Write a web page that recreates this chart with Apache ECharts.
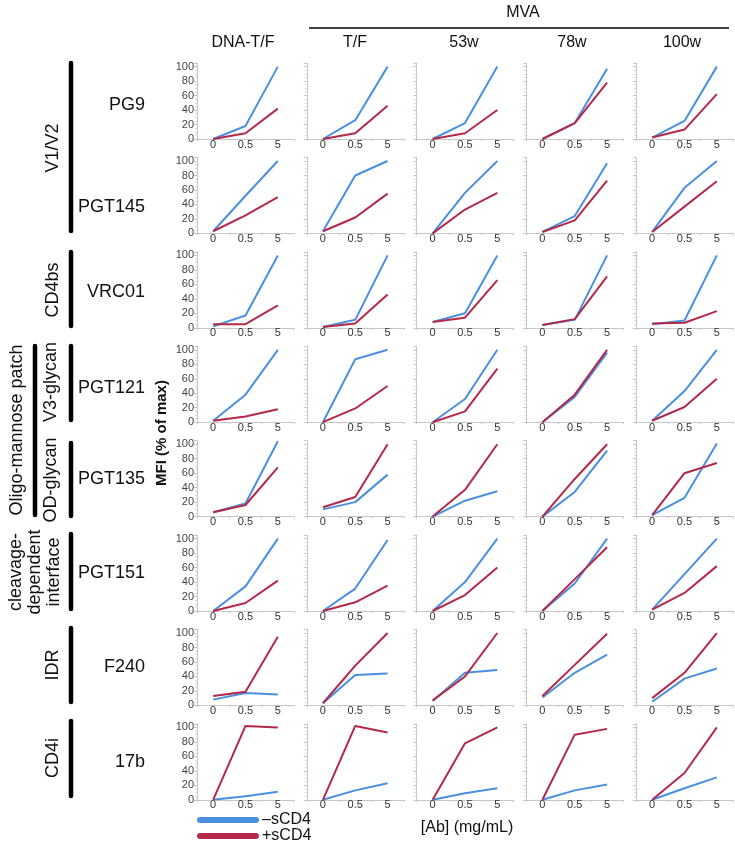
<!DOCTYPE html>
<html>
<head>
<meta charset="utf-8">
<script src="https://cdn.jsdelivr.net/npm/echarts@6/dist/echarts.min.js"></script>
<style>
  html, body { margin: 0; padding: 0; background: #fff; }
  #chart { width: 735px; height: 844px; }
</style>
</head>
<body>
<div id="chart"></div>
<script>
// x categories, antibody concentration
const doses = ['0', '0.5', '5']
const columns = ['DNA-T/F', 'T/F', '53w', '78w', '100w']
const antibodies = ['PG9', 'PGT145', 'VRC01', 'PGT121', 'PGT135', 'PGT151', 'F240', '17b']
const yTicks = [0, 20, 40, 60, 80, 100]

// -sCD4, one row per antibody, one triple per column
const minusSCD4 = [
  [[0, 18, 100], [0, 26, 100], [0, 22, 100], [0, 22, 97], [2, 25, 100]], // PG9
  [[3, 52, 100], [3, 80, 100], [0, 56, 100], [2, 24, 97], [2, 63, 100]], // PGT145
  [[2, 17, 100], [1, 11, 100], [8, 20, 100], [4, 11, 100], [5, 10, 100]], // VRC01
  [[2, 38, 100], [0, 87, 100], [0, 32, 100], [0, 35, 96], [2, 43, 100]], // PGT121
  [[6, 18, 104], [10, 20, 58], [0, 22, 35], [0, 34, 91], [2, 26, 101]], // PGT135
  [[0, 34, 100], [0, 31, 98], [0, 40, 100], [0, 38, 100], [2, 51, 100]], // PGT151
  [[8, 17, 15], [3, 42, 44], [6, 45, 49], [11, 45, 70], [5, 37, 51]], // F240
  [[0, 5, 11], [0, 13, 23], [0, 9, 16], [0, 13, 21], [0, 16, 31]] // 17b
]

// +sCD4
const plusSCD4 = [
  [[0, 8, 42], [0, 8, 46], [0, 8, 40], [0, 22, 78], [2, 13, 62]],
  [[3, 25, 50], [3, 22, 55], [0, 33, 56], [2, 18, 73], [2, 37, 72]],
  [[5, 5, 31], [1, 6, 46], [8, 14, 66], [4, 12, 71], [6, 7, 23]],
  [[2, 8, 18], [0, 19, 50], [0, 15, 74], [0, 38, 100], [2, 21, 60]],
  [[6, 16, 68], [13, 27, 100], [0, 37, 100], [0, 52, 100], [2, 60, 74]],
  [[0, 11, 42], [0, 12, 35], [0, 22, 60], [0, 44, 88], [2, 25, 62]],
  [[13, 19, 95], [3, 55, 100], [7, 40, 100], [13, 56, 99], [10, 45, 100]],
  [[0, 102, 100], [0, 102, 93], [0, 78, 100], [0, 90, 98], [0, 37, 100]]
]

const BLUE = '#4a8fe0'
const RED = '#b3294a'
const FONT = '"Liberation Sans", Arial, sans-serif'
const AXIS = '#c6c6c6'

const chart = echarts.init(document.getElementById('chart'))

let grids = []
let xAxes = []
let yAxes = []
let series = []

antibodies.forEach((ab, r) => {
  columns.forEach((col, c) => {
    const i = grids.length
    grids.push({
      left: 197 + c * 109.75,
      top: 63 + r * 94.4,
      width: 97,
      height: 76
    })
    xAxes.push({
      gridIndex: i,
      type: 'category',
      data: doses,
      boundaryGap: true,
      axisLine: { lineStyle: { color: AXIS } },
      axisTick: { show: true, length: 2, lineStyle: { color: AXIS } },
      axisLabel: { fontSize: 11, color: '#333', margin: 0, fontFamily: FONT }
    })
    yAxes.push({
      gridIndex: i,
      type: 'value',
      min: yTicks[0],
      max: 105,
      interval: yTicks[1] - yTicks[0],
      axisLine: { show: true, lineStyle: { color: AXIS } },
      axisTick: { show: true, length: 3, lineStyle: { color: AXIS } },
      minorTick: { show: true, splitNumber: 4, length: 2, lineStyle: { color: '#dadada' } },
      splitLine: { show: false },
      axisLabel: {
        show: c === 0,
        fontSize: 11,
        color: '#444',
        margin: 3,
        fontFamily: FONT,
        formatter: (v) => (yTicks.indexOf(v) >= 0 ? String(v) : '')
      }
    })
    series.push({
      type: 'line',
      name: '–sCD4',
      xAxisIndex: i,
      yAxisIndex: i,
      data: minusSCD4[r][c],
      symbol: 'none',
      silent: true,
      lineStyle: { width: 2, color: BLUE },
      itemStyle: { color: BLUE }
    })
    series.push({
      type: 'line',
      name: '+sCD4',
      xAxisIndex: i,
      yAxisIndex: i,
      data: plusSCD4[r][c],
      symbol: 'none',
      silent: true,
      lineStyle: { width: 2, color: RED },
      itemStyle: { color: RED }
    })
  })
})

// left side labels
const txt = (x, y, text, opts = {}) => ({
  type: 'text',
  x: x,
  y: y,
  rotation: opts.rotate ? Math.PI / 2 : 0,
  style: {
    text: text,
    fontSize: opts.size || 18,
    fontWeight: opts.bold ? 'bold' : 'normal',
    fontFamily: FONT,
    fill: '#111',
    align: opts.align || 'center',
    verticalAlign: 'middle',
    lineHeight: opts.lineHeight
  }
})
const bar = (x, y1, y2) => ({
  type: 'line',
  shape: { x1: x, y1: y1, x2: x, y2: y2 },
  style: { stroke: '#000', lineWidth: 4.5, lineCap: 'round' }
})

const nameY = [105, 207, 292, 388, 479, 573, 667, 762]
let graphic = []
antibodies.forEach((ab, r) => {
  graphic.push(txt(145, nameY[r], ab, { align: 'right' }))
})
const headerX = [243, 355, 464, 572, 682]
columns.forEach((col, c) => {
  graphic.push(txt(headerX[c], 43, col, { size: 16 }))
})
graphic.push(txt(523, 13, 'MVA', { size: 16 }))
graphic.push({
  type: 'line',
  shape: { x1: 309, y1: 28, x2: 729, y2: 28 },
  style: { stroke: '#000', lineWidth: 1.5 }
})

graphic.push(bar(71, 63, 231))
graphic.push(txt(53, 148, 'V1/V2', { rotate: true }))
graphic.push(bar(71, 252, 326))
graphic.push(txt(53, 290, 'CD4bs', { rotate: true }))
graphic.push(bar(71, 346, 420))
graphic.push(txt(51, 382, 'V3-glycan', { rotate: true }))
graphic.push(bar(35, 346, 515))
graphic.push(txt(17, 430, 'Oligo-mannose patch', { rotate: true }))
graphic.push(bar(71, 443, 516))
graphic.push(txt(51, 480, 'OD-glycan', { rotate: true }))
graphic.push(bar(71, 534, 609))
graphic.push(txt(35, 572, 'cleavage-\ndependent\ninterface', { rotate: true, lineHeight: 19 }))
graphic.push(bar(71, 628, 702))
graphic.push(txt(53, 665, 'IDR', { rotate: true }))
graphic.push(bar(71, 721, 796))
graphic.push(txt(53, 758, 'CD4i', { rotate: true }))

graphic.push(txt(162, 433, 'MFI (% of max)', { rotate: true, bold: true, size: 15 }))
graphic.push(txt(467, 828, '[Ab] (mg/mL)', { size: 16 }))

chart.setOption({
  animation: false,
  grid: grids,
  xAxis: xAxes,
  yAxis: yAxes,
  series: series,
  legend: {
    data: ['–sCD4', '+sCD4'],
    orient: 'vertical',
    left: 197,
    top: 812,
    height: 40,
    padding: 0,
    itemWidth: 62,
    itemHeight: 6,
    itemGap: 0,
    icon: 'path://M3,0 L59,0 A3,3 0 0 1 59,6 L3,6 A3,3 0 0 1 3,0 Z',
    textStyle: { fontSize: 16, color: '#111', fontFamily: FONT, lineHeight: 16, padding: [0, 0, 0, -2] },
    selectedMode: false
  },
  graphic: graphic
})
</script>
</body>
</html>
